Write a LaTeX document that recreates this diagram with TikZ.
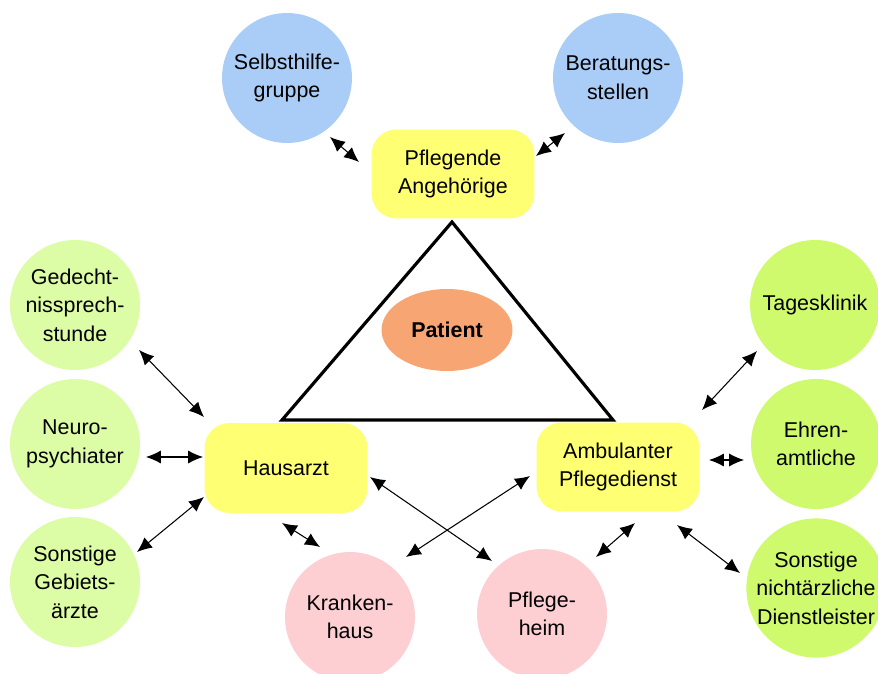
\documentclass[tikz,border=0pt]{standalone}
\usepackage{fontspec}
\setmainfont{Liberation Sans}
\usetikzlibrary{arrows.meta,shapes.geometric}
\definecolor{cblue}{RGB}{170,205,248}
\definecolor{cgreenA}{RGB}{220,252,165}
\definecolor{cgreenB}{RGB}{208,250,110}
\definecolor{cpink}{RGB}{253,206,210}
\definecolor{cyellow}{RGB}{255,255,115}
\definecolor{corange}{RGB}{247,166,115}
\tikzset{
  every node/.style={font=\fontsize{12.2}{16.3}\selectfont, align=center, inner sep=0pt},
  ball/.style={circle, minimum size=2.6cm},
  blueball/.style={ball, fill=cblue},
  greenA/.style={ball, fill=cgreenA},
  greenB/.style={ball, fill=cgreenB},
  pinkball/.style={ball, fill=cpink},
  ybox/.style={rectangle, rounded corners=0.5cm, fill=cyellow, minimum width=3.26cm, minimum height=1.78cm},
  arr/.style={{Latex[length=8.5pt,width=7.5pt]}-{Latex[length=8.5pt,width=7.5pt]}, line width=0.6pt, black},
}
\begin{document}
\begin{tikzpicture}[x=0.02cm,y=-0.02cm]
\useasboundingbox (0,0) rectangle (878,673);
% triangle
\coordinate (tA) at (452,222);
\coordinate (tB) at (282,420);
\coordinate (tC) at (613,420);
\draw[line width=1.8pt, line join=miter] (tA) -- (tB) -- (tC) -- cycle;
\node[ellipse, fill=corange, minimum width=2.62cm, minimum height=1.64cm, font=\fontsize{12.2}{16.3}\selectfont\bfseries] (patient) at (447,330) {Patient};
% boxes
\node[ybox] (pflege) at (453,174) {Pflegende\\Angehörige};
\node[ybox, minimum height=1.8cm] (haus) at (286,468) {Hausarzt};
\node[ybox, minimum height=1.78cm] (amb) at (618,467) {Ambulanter\\Pflegedienst};
% circles
\node[blueball] (selbst) at (287,78) {Selbsthilfe-\\gruppe};
\node[blueball] (berat) at (618,78) {Beratungs-\\stellen};
\node[greenA] (gedacht) at (75,305) {Gedecht-\\nissprech-\\stunde};
\node[greenA] (neuro) at (75,444) {Neuro-\\psychiater};
\node[greenA] (sonst) at (75,582) {Sonstige\\Gebiets-\\ärzte};
\node[greenB] (tages) at (815,305) {Tagesklinik};
\node[greenB] (ehren) at (816,444) {Ehren-\\amtliche};
\node[greenB] (nicht) at (816,588) {Sonstige\\nichtärzliche\\Dienstleister};
\node[pinkball] (kranken) at (350,617) {Kranken-\\haus};
\node[pinkball] (heim) at (542,614) {Pflege-\\heim};
% arrow end coordinates
\coordinate (a1) at (330,137); \coordinate (a2) at (359,162);
\coordinate (b1) at (565,133); \coordinate (b2) at (536,156);
\coordinate (c1) at (139,350); \coordinate (c2) at (204,417);
\coordinate (d1) at (146,457); \coordinate (d2) at (203,457);
\coordinate (e1) at (137,552); \coordinate (e2) at (204,497);
\coordinate (f1) at (757,351); \coordinate (f2) at (702,410);
\coordinate (g1) at (744,460); \coordinate (g2) at (709,460);
\coordinate (h1) at (740,573); \coordinate (h2) at (677,525);
\coordinate (i1) at (596,557); \coordinate (i2) at (635,523);
\coordinate (j1) at (320,547); \coordinate (j2) at (282,523);
\coordinate (k1) at (492,561); \coordinate (k2) at (370,477);
\coordinate (l1) at (406,557); \coordinate (l2) at (530,476);
\draw[arr] (a1) -- (a2);
\draw[arr] (b1) -- (b2);
\draw[arr] (c1) -- (c2);
\draw[arr] (d1) -- (d2);
\draw[arr] (e1) -- (e2);
\draw[arr] (f1) -- (f2);
\draw[arr] (g1) -- (g2);
\draw[arr] (h1) -- (h2);
\draw[arr] (i1) -- (i2);
\draw[arr] (j1) -- (j2);
\draw[arr] (k1) -- (k2);
\draw[arr] (l1) -- (l2);
\end{tikzpicture}
\end{document}
